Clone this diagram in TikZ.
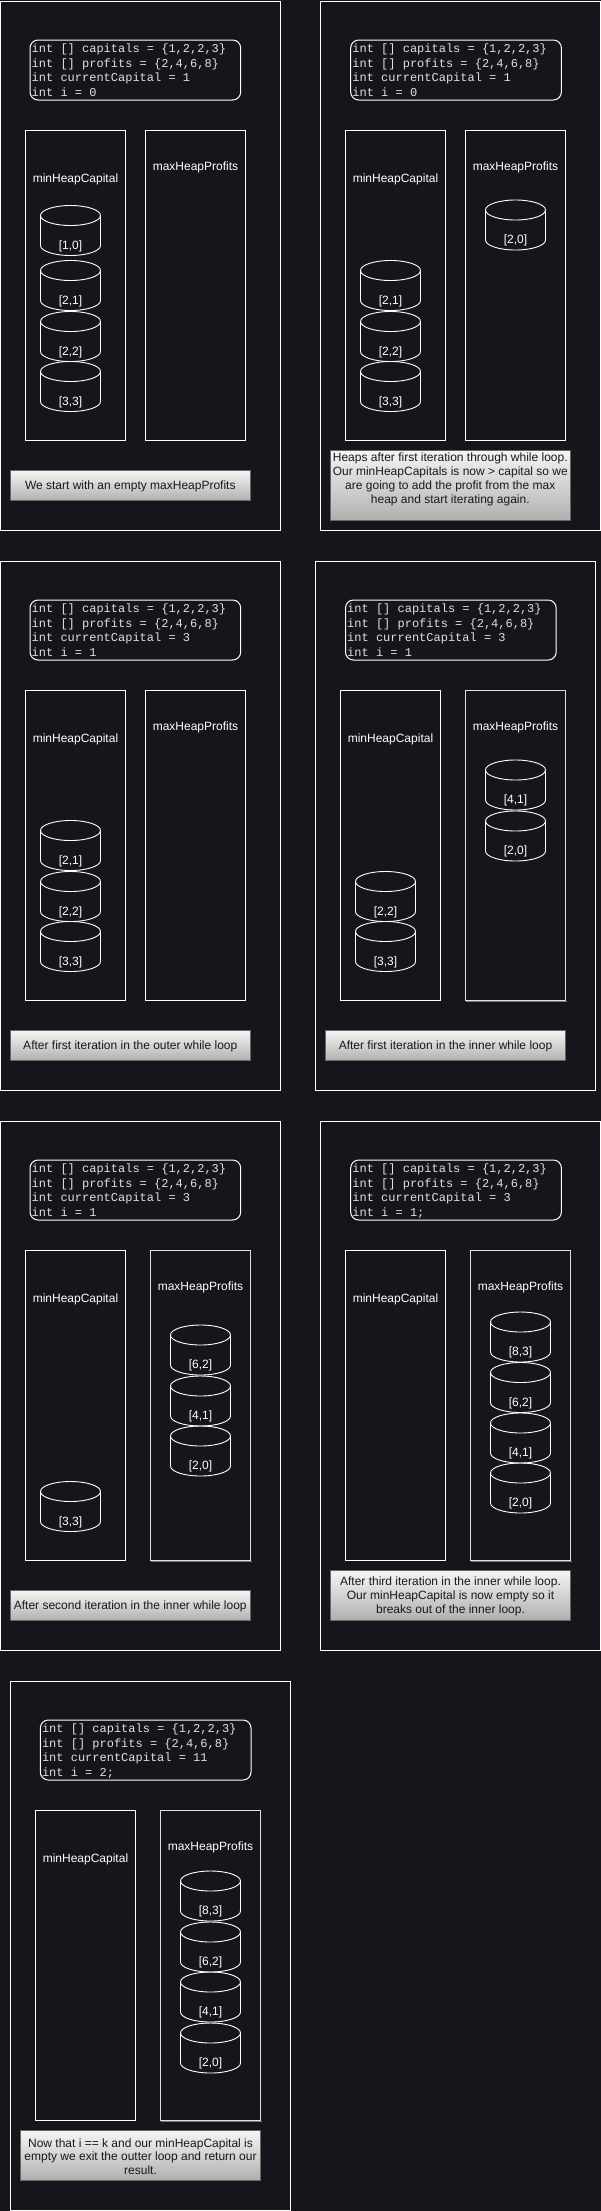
\documentclass[tikz,border=0pt]{standalone}
\usepackage{fontspec}
\setmainfont{Liberation Sans}
\newfontfamily\codefont{Liberation Mono}
\definecolor{bg}{RGB}{24,20,28}
\definecolor{codecol}{RGB}{224,224,224}
\definecolor{captop}{RGB}{245,245,245}
\definecolor{capbot}{RGB}{176,176,176}
\definecolor{capstroke}{RGB}{102,102,102}
\definecolor{shadowcol}{RGB}{120,120,120}

\newcommand{\codeblock}[4]{%
  \draw[codebox] (30+#2,40) rectangle (240.7+#2,100);
  \node[codeline] (#1l1) at (31.5+#2,52.2) {int [] capitals = \{1,2,2,3\}};
  \node[codeline] (#1l2) at (31.5+#2,67) {int [] profits = \{2,4,6,8\}};
  \node[codeline] (#1l3) at (31.5+#2,81.8) {#3};
  \node[codeline] (#1l4) at (31.5+#2,96.6) {#4};
}
\newcommand{\minbox}[2]{%
  \draw[heapbox] (25.3+#2,130) rectangle (125.7+#2,440);
  \node[heaplabel] (#1min) at (75.5+#2,182.3) {minHeapCapital};
}
\newcommand{\maxbox}[2]{%
  \draw[heapbox] (145.3+#2,130) rectangle (245.7+#2,440);
  \node[heaplabel] (#1max) at (195.5+#2,170.3) {maxHeapProfits};
}
\newcommand{\maxboxsh}[2]{%
  \draw[shadowcol, line width=1.2pt] (146.3+#2,441.2) -- (246.5+#2,441.2);
  \draw[heapboxb] (145.3+#2,130) rectangle (245.7+#2,440);
  \node[heaplabel] (#1max) at (195.5+#2,170.3) {maxHeapProfits};
}
\newcommand{\heapcyl}[4]{%
  \draw[cylline] (#2,#3+10) ellipse [x radius=30, y radius=10];
  \draw[cylline] (#2-30,#3+10) -- (#2-30,#3+40)
    .. controls (#2-30,#3+45.52) and (#2-16.57,#3+50) .. (#2,#3+50)
    .. controls (#2+16.57,#3+50) and (#2+30,#3+45.52) .. (#2+30,#3+40)
    -- (#2+30,#3+10);
  \node[cyltext] (#1) at (#2,#3+43.5) {#4};
}

\begin{document}
\begin{tikzpicture}[x=1pt,y=-1pt,
  frame/.style={draw=white, line width=1pt},
  heapbox/.style={draw=white, line width=1pt},
  heapboxb/.style={draw=white!88!black, line width=1pt},
  codebox/.style={draw=white, line width=1pt, rounded corners=8pt},
  codeline/.style={anchor=base west, inner sep=0pt, text=codecol, font=\codefont\fontsize{12}{14}\selectfont},
  heaplabel/.style={anchor=base, inner sep=0pt, text=white, font=\fontsize{12}{14}\selectfont},
  cylline/.style={draw=white, line width=0.9pt},
  cyltext/.style={anchor=base, inner sep=0pt, text=white, font=\fontsize{12}{14}\selectfont},
  capbox/.style={draw=capstroke, line width=1pt, top color=captop, bottom color=capbot},
  captext/.style={align=center, inner sep=0pt, text=black!90, font=\fontsize{12}{13.9}\selectfont},
]
\useasboundingbox (0,0) rectangle (601,2211);
\fill[bg] (0,0) rectangle (601,2211);

% ---------- Panel 1 ----------
\draw[frame] (0.8,1) rectangle (280,530);
\codeblock{pa}{0}{int currentCapital = 1}{int i = 0}
\minbox{pa}{0}
\maxbox{pa}{0}
\heapcyl{pac1}{70.5}{205.5}{[1,0]}
\heapcyl{pac2}{70.5}{260.5}{[2,1]}
\heapcyl{pac3}{70.5}{311.5}{[2,2]}
\heapcyl{pac4}{70.5}{361.5}{[3,3]}
\draw[capbox] (10.3,470.7) rectangle (250.3,500.7);
\node[captext] (pacap) at (130.3,486.3) {We start with an empty maxHeapProfits};

% ---------- Panel 2 ----------
\draw[frame] (320.3,1) rectangle (600,530);
\codeblock{pb}{320.7}{int currentCapital = 1}{int i = 0}
\minbox{pb}{320}
\maxbox{pb}{320}
\heapcyl{pbc1}{390.5}{260.5}{[2,1]}
\heapcyl{pbc2}{390.5}{311.5}{[2,2]}
\heapcyl{pbc3}{390.5}{361.5}{[3,3]}
\heapcyl{pbm1}{515.5}{200}{[2,0]}
\draw[capbox] (330.3,450) rectangle (570.3,520);
\node[captext] (pbcap) at (450.3,479.5) {Heaps after first iteration through while loop.\\Our minHeapCapitals is now > capital so we\\are going to add the profit from the max\\heap and start iterating again.};

% ---------- Panel 3 ----------
\begin{scope}[shift={(0,560)}]
\draw[frame] (0.8,1) rectangle (280,530);
\codeblock{pc}{0}{int currentCapital = 3}{int i = 1}
\minbox{pc}{0}
\maxbox{pc}{0}
\heapcyl{pcc1}{70.5}{260.5}{[2,1]}
\heapcyl{pcc2}{70.5}{311.5}{[2,2]}
\heapcyl{pcc3}{70.5}{361.5}{[3,3]}
\draw[capbox] (10.3,470.7) rectangle (250.3,500.7);
\node[captext] (pccap) at (130.3,486.3) {After first iteration in the outer while loop};
\end{scope}

% ---------- Panel 4 ----------
\begin{scope}[shift={(0,560)}]
\draw[frame] (315.3,1) rectangle (595.7,530);
\codeblock{pd}{315.5}{int currentCapital = 3}{int i = 1}
\minbox{pd}{315}
\maxboxsh{pd}{320}
\heapcyl{pdc1}{385.5}{311.5}{[2,2]}
\heapcyl{pdc2}{385.5}{361.5}{[3,3]}
\heapcyl{pdm1}{515.5}{200}{[4,1]}
\heapcyl{pdm2}{515.5}{251}{[2,0]}
\draw[capbox] (325.3,470.7) rectangle (565.7,500.7);
\node[captext] (pdcap) at (445.5,486.3) {After first iteration in the inner while loop};
\end{scope}

% ---------- Panel 5 ----------
\begin{scope}[shift={(0,1120)}]
\draw[frame] (0.8,1) rectangle (280,530);
\codeblock{pe}{0}{int currentCapital = 3}{int i = 1}
\minbox{pe}{0}
\maxboxsh{pe}{5}
\heapcyl{pec1}{70.5}{361.5}{[3,3]}
\heapcyl{pem1}{200.5}{205}{[6,2]}
\heapcyl{pem2}{200.5}{256}{[4,1]}
\heapcyl{pem3}{200.5}{306}{[2,0]}
\draw[capbox] (10.3,470.7) rectangle (250.3,500.7);
\node[captext] (pecap) at (130.3,486.3) {After second iteration in the inner while loop};
\end{scope}

% ---------- Panel 6 ----------
\begin{scope}[shift={(0,1120)}]
\draw[frame] (320.3,1) rectangle (600,530);
\codeblock{pf}{320.7}{int currentCapital = 3}{int i = 1;}
\minbox{pf}{320}
\maxboxsh{pf}{325}
\heapcyl{pfm1}{520.5}{192}{[8,3]}
\heapcyl{pfm2}{520.5}{242.5}{[6,2]}
\heapcyl{pfm3}{520.5}{293}{[4,1]}
\heapcyl{pfm4}{520.5}{343}{[2,0]}
\draw[capbox] (330.3,450.4) rectangle (570.7,500.2);
\node[captext] (pfcap) at (450.5,476.3) {After third iteration in the inner while loop.\\Our minHeapCapital is now empty so it\\breaks out of the inner loop.};
\end{scope}

% ---------- Panel 7 ----------
\begin{scope}[shift={(0,1680)}]
\draw[frame] (10.3,1) rectangle (290.3,530);
\codeblock{pg}{10.3}{int currentCapital = 11}{int i = 2;}
\minbox{pg}{10}
\maxboxsh{pg}{15}
\heapcyl{pgm1}{210.5}{191}{[8,3]}
\heapcyl{pgm2}{210.5}{242}{[6,2]}
\heapcyl{pgm3}{210.5}{292}{[4,1]}
\heapcyl{pgm4}{210.5}{343}{[2,0]}
\draw[capbox] (20.3,450.6) rectangle (260.7,500);
\node[captext] (pgcap) at (140.5,476.6) {Now that i == k and our minHeapCapital is\\empty we exit the outter loop and return our\\result.};
\end{scope}
\end{tikzpicture}
\end{document}
